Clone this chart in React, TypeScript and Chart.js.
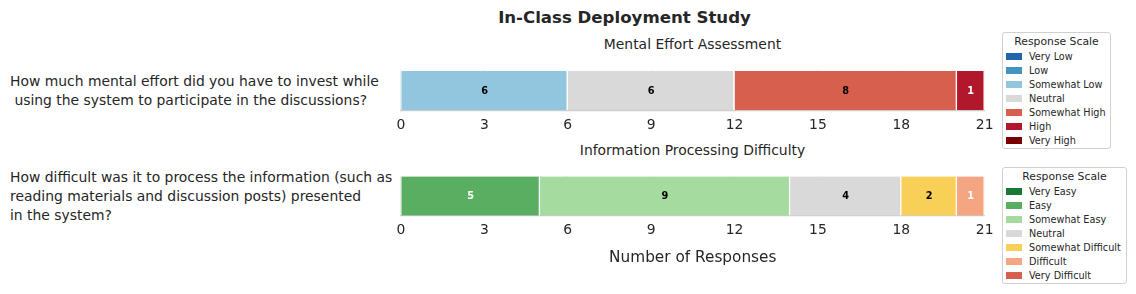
import React, { useEffect, useRef } from "react";
import { Chart, registerables } from "chart.js";

Chart.register(...registerables);

const FONT = "'DejaVu Sans', 'Liberation Sans', sans-serif";
const TEXT = "#262626";

const figureTitle = "In-Class Deployment Study";
const xAxisTitle = "Number of Responses";
const legendTitle = "Response Scale";
const xTicks = [0, 3, 6, 9, 12, 15, 18, 21];

const effortTitle = "Mental Effort Assessment";
const effortQuestion = ["How much mental effort did you have to invest while", " using the system to participate in the discussions?"];
const effortLabels = ["Very Low", "Low", "Somewhat Low", "Neutral", "Somewhat High", "High", "Very High"];
const effortCounts = [0, 0, 6, 6, 8, 1, 0];
const effortColors = ["#2166ac", "#4393c3", "#92c5de", "#d9d9d9", "#d6604d", "#b2182b", "#7a0000"];

const difficultyTitle = "Information Processing Difficulty";
const difficultyQuestion = ["How difficult was it to process the information (such as", "reading materials and discussion posts) presented", "in the system?"];
const difficultyLabels = ["Very Easy", "Easy", "Somewhat Easy", "Neutral", "Somewhat Difficult", "Difficult", "Very Difficult"];
const difficultyCounts = [0, 5, 9, 4, 2, 1, 0];
const difficultyColors = ["#1a7837", "#5aae61", "#a6dba0", "#d9d9d9", "#f9d057", "#f4a582", "#d6604d"];

// label text colour per response position (extremes white, middle black)
const labelTextColors = ["#ffffff", "#ffffff", "#000000", "#000000", "#000000", "#ffffff", "#ffffff"];

const valueLabelPlugin = {
  id: "valueLabels",
  afterDatasetsDraw(chart: any) {
    const ctx = chart.ctx;
    ctx.save();
    ctx.font = `bold 9.8px ${FONT}`;
    ctx.textAlign = "center";
    ctx.textBaseline = "middle";
    chart.data.datasets.forEach((ds: any, i: number) => {
      const meta = chart.getDatasetMeta(i);
      meta.data.forEach((el: any, j: number) => {
        const v = ds.data[j];
        if (!v) return;
        const p = el.getProps(["x", "y", "base"], true);
        ctx.fillStyle = ds.labelColor;
        ctx.fillText(String(v), (p.x + p.base) / 2, p.y + 0.5);
      });
    });
    ctx.restore();
  },
};

const CANVAS_LEFT = 390;
const CANVAS_WIDTH = 610;

function BarChart(props: {
  title: string;
  labels: string[];
  counts: number[];
  colors: string[];
  axisTitle?: string;
  top: number;
  height: number;
  axisHeight: number;
}) {
  const ref = useRef<HTMLCanvasElement>(null);
  useEffect(() => {
    const datasets = props.labels
      .map((label, i) => ({
        label,
        data: [props.counts[i]],
        backgroundColor: props.colors[i],
        borderColor: "#ffffff",
        borderWidth: { top: 0, bottom: 0, left: 0, right: 1.5 },
        borderSkipped: false,
        barThickness: 39,
        labelColor: labelTextColors[i],
      }))
      .filter((d) => d.data[0] > 0);
    const chart = new Chart(ref.current as HTMLCanvasElement, {
      type: "bar",
      data: { labels: [""], datasets: datasets as any },
      plugins: [valueLabelPlugin],
      options: {
        indexAxis: "y",
        animation: false,
        responsive: false,
        maintainAspectRatio: false,
        layout: { padding: { left: 10, right: 15, top: 40, bottom: 0 } },
        plugins: {
          legend: { display: false },
          tooltip: { enabled: false },
          title: { display: false },
        },
        scales: {
          x: {
            stacked: true,
            min: 0,
            max: 21,
            afterBuildTicks: (scale: any) => {
              scale.ticks = xTicks.map((v) => ({ value: v }));
            },
            afterFit: (scale: any) => {
              scale.height = props.axisHeight;
            },
            ticks: {
              color: TEXT,
              font: { family: FONT, size: 13.9 },
              padding: 6.5,
              maxRotation: 0,
              autoSkip: false,
            },
            grid: { color: "#ebebeb", drawTicks: false, lineWidth: 1 },
            border: { display: true, color: "#cccccc", width: 1.25 },
            title: props.axisTitle
              ? {
                  display: true,
                  text: props.axisTitle,
                  color: TEXT,
                  font: { family: FONT, size: 15.3 },
                  padding: { top: 0, bottom: 9 },
                }
              : { display: false },
          },
          y: { stacked: true, display: false },
        },
      } as any,
    });
    return () => chart.destroy();
  }, []);
  return (
    <>
      <div
        style={{
          position: "absolute",
          left: 400,
          width: 585,
          top: props.top + 14 - 9,
          textAlign: "center",
          fontFamily: FONT,
          fontSize: 13.9,
          lineHeight: "18px",
          color: TEXT,
          whiteSpace: "nowrap",
        }}
      >
        {props.title}
      </div>
      <canvas
        ref={ref}
        width={CANVAS_WIDTH}
        height={props.height}
        style={{ position: "absolute", left: CANVAS_LEFT, top: props.top, width: CANVAS_WIDTH, height: props.height }}
      />
    </>
  );
}

function Legend(props: { labels: string[]; colors: string[]; left: number; top: number; width: number; height: number }) {
  return (
    <div
      style={{
        position: "absolute",
        left: props.left,
        top: props.top,
        width: props.width,
        height: props.height,
        boxSizing: "border-box",
        border: "1px solid #d0d0d0",
        borderRadius: 3,
        background: "#fff",
        fontFamily: FONT,
        color: TEXT,
      }}
    >
      <div style={{ textAlign: "center", fontSize: 10.8, lineHeight: "12px", marginTop: 3 }}>{legendTitle}</div>
      <div style={{ marginTop: 2 }}>
        {props.labels.map((l, i) => (
          <div key={l} style={{ display: "flex", alignItems: "center", height: 13.9, fontSize: 9.7, whiteSpace: "nowrap" }}>
            <span style={{ display: "inline-block", width: 16, height: 7, background: props.colors[i], marginLeft: 3, marginRight: 7 }} />
            <span>{l}</span>
          </div>
        ))}
      </div>
    </div>
  );
}

function Question(props: { lines: string[]; top: number }) {
  return (
    <div
      style={{
        position: "absolute",
        left: 10,
        top: props.top,
        fontFamily: FONT,
        fontSize: 13.9,
        lineHeight: "19px",
        color: TEXT,
        whiteSpace: "pre",
      }}
    >
      {props.lines.map((l, i) => (
        <div key={i}>{l}</div>
      ))}
    </div>
  );
}

export default function App() {
  return (
    <div style={{ position: "fixed", left: 0, top: 0, width: 1136, height: 294, background: "#fff", overflow: "hidden" }}>
      <div
        style={{
          position: "absolute",
          left: 0,
          width: 1249,
          top: 8,
          textAlign: "center",
          fontFamily: FONT,
          fontWeight: "bold",
          fontSize: 16.6,
          lineHeight: "20px",
          color: TEXT,
        }}
      >
        {figureTitle}
      </div>
      <Question lines={effortQuestion} top={71.5} />
      <Question lines={difficultyQuestion} top={167.5} />
      <BarChart
        title={effortTitle}
        labels={effortLabels}
        counts={effortCounts}
        colors={effortColors}
        top={30}
        height={106}
        axisHeight={25}
      />
      <BarChart
        title={difficultyTitle}
        labels={difficultyLabels}
        counts={difficultyCounts}
        colors={difficultyColors}
        axisTitle={xAxisTitle}
        top={136}
        height={140}
        axisHeight={60}
      />
      <Legend labels={effortLabels} colors={effortColors} left={1002} top={32} width={109} height={117} />
      <Legend labels={difficultyLabels} colors={difficultyColors} left={1002} top={167} width={125} height={117} />
    </div>
  );
}
